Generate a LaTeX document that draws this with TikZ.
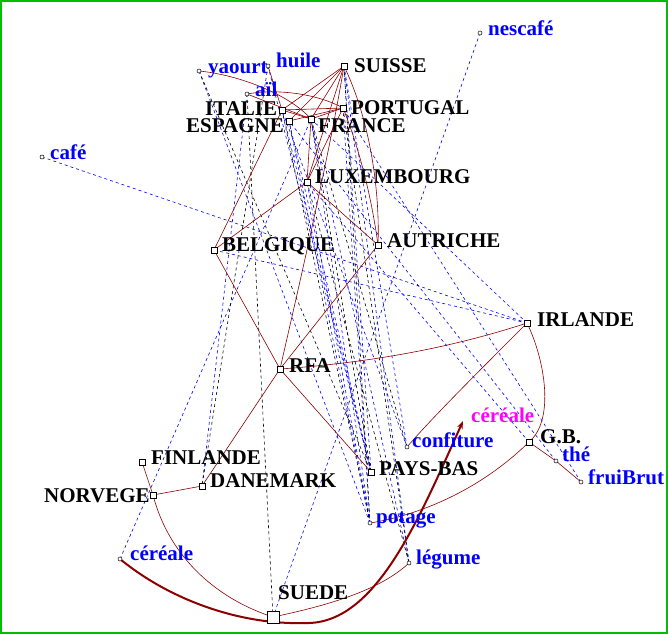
\documentclass[tikz,border=0pt]{standalone}
\usepackage{fontspec}
\setmainfont{Liberation Serif}
\usetikzlibrary{arrows.meta}
\definecolor{edgered}{RGB}{140,0,0}
\definecolor{lblblue}{RGB}{0,0,255}
\definecolor{lblmag}{RGB}{255,0,255}
\definecolor{framegreen}{RGB}{0,190,0}
\begin{document}
\begin{tikzpicture}[x=1pt,y=-1pt,
  cmark/.style={draw=black,fill=white,minimum size=6pt,inner sep=0pt,line width=0.6pt},
  bigmark/.style={draw=black,fill=white,minimum size=12pt,inner sep=0pt,line width=0.8pt},
  fmark/.style={draw=black,fill=white,circle,minimum size=4pt,inner sep=0pt,line width=0.5pt},
  clbl/.style={anchor=base west,inner sep=0pt,font=\fontsize{21}{24}\selectfont\bfseries,text=black},
  flbl/.style={anchor=base west,inner sep=0pt,font=\fontsize{21}{24}\selectfont\bfseries,text=lblblue},
  mlbl/.style={anchor=base west,inner sep=0pt,font=\fontsize{21}{24}\selectfont\bfseries,text=lblmag},
  redge/.style={draw=edgered,line width=0.6pt},
  bedge/.style={draw=lblblue,line width=0.6pt,dash pattern=on 3pt off 3pt},
  kedge/.style={draw=black,line width=0.6pt,dash pattern=on 3pt off 3pt},
  arrowedge/.style={draw=edgered,line width=2pt,-{Stealth[length=8pt,width=6pt]}}
]
\useasboundingbox (0,0) rectangle (668,634);
\draw[framegreen,line width=2pt] (1,1) rectangle (667,633);

% edge end points
\coordinate (nescafe) at (480,33);
\coordinate (yaourt) at (199,71);
\coordinate (huile) at (268,66);
\coordinate (SUISSE) at (344,66);
\coordinate (ail) at (247,94);
\coordinate (ITALIE) at (282,110);
\coordinate (PORTUGAL) at (343,108);
\coordinate (ESPAGNE) at (289,121);
\coordinate (FRANCE) at (311,119);
\coordinate (cafe) at (42,157);
\coordinate (LUX) at (307,182);
\coordinate (BELGIQUE) at (214,250);
\coordinate (AUTRICHE) at (378,245);
\coordinate (IRLANDE) at (527,323);
\coordinate (RFA) at (280,369);
\coordinate (cerM) at (463,421);
\coordinate (confiture) at (407,447);
\coordinate (GB) at (529,442);
\coordinate (the) at (556,461);
\coordinate (fruiBrut) at (581,482);
\coordinate (FINLANDE) at (142,462);
\coordinate (PAYSBAS) at (371,472);
\coordinate (DANEMARK) at (202,486);
\coordinate (NORVEGE) at (153,495);
\coordinate (potage) at (370,523);
\coordinate (cerB) at (120,559);
\coordinate (legume) at (409,563);
\coordinate (SUEDE) at (273,617);

% blue dashed
\draw[bedge] (nescafe) -- (SUEDE);
\draw[bedge] (cafe) -- (IRLANDE);
\draw[bedge] (cerB) -- (FRANCE);
\draw[bedge] (ail) -- (DANEMARK);
\draw[bedge] (potage) -- (ESPAGNE);
\draw[bedge] (potage) -- (FRANCE);
\draw[bedge] (potage) -- (LUX);
\draw[bedge] (potage) -- (PORTUGAL);
\draw[bedge] (PAYSBAS) -- (ITALIE);
\draw[bedge] (PAYSBAS) -- (ESPAGNE);
\draw[bedge] (PAYSBAS) -- (SUISSE);
\draw[bedge] (legume) -- (FRANCE);
\draw[bedge] (legume) -- (SUISSE);
\draw[bedge] (confiture) -- (ITALIE);
\draw[bedge] (confiture) -- (SUISSE);
\draw[bedge] (fruiBrut) -- (PORTUGAL);
\draw[bedge] (the) -- (ESPAGNE);
\draw[bedge] (GB) -- (LUX);
\draw[bedge] (IRLANDE) -- (FRANCE);
\draw[bedge] (IRLANDE) -- (BELGIQUE);
\draw[bedge] (yaourt) -- (potage);
\draw[bedge] (huile) -- (PAYSBAS);
% black dashed
\draw[kedge] (ail) -- (SUEDE);
\draw[kedge] (huile) -- (DANEMARK);
\draw[kedge] (ITALIE) -- (potage);
\draw[kedge] (SUISSE) -- (potage);
\draw[kedge] (FRANCE) -- (PAYSBAS);
\draw[kedge] (PORTUGAL) -- (legume);
\draw[kedge] (LUX) -- (legume);
\draw[kedge] (FRANCE) -- (confiture);
\draw[kedge] (yaourt) -- (PAYSBAS);

% red solid
\draw[redge] (yaourt) .. controls (240,75) and (290,95) .. (FRANCE);
\draw[redge] (huile) -- (ITALIE);
\draw[redge] (ail) .. controls (280,88) and (320,95) .. (PORTUGAL);
\draw[redge] (ail) -- (FRANCE);
\draw[redge] (ITALIE) -- (PORTUGAL);
\draw[redge] (ITALIE) -- (FRANCE);
\draw[redge] (ESPAGNE) -- (PORTUGAL);
\draw[redge] (FRANCE) -- (PORTUGAL);
\draw[redge] (SUISSE) -- (ITALIE);
\draw[redge] (SUISSE) -- (ESPAGNE);
\draw[redge] (SUISSE) -- (FRANCE);
\draw[redge] (SUISSE) -- (LUX);
\draw[redge] (SUISSE) .. controls (370,120) and (380,190) .. (AUTRICHE);
\draw[redge] (PORTUGAL) .. controls (360,150) and (372,200) .. (AUTRICHE);
\draw[redge] (SUISSE) .. controls (330,150) and (305,260) .. (RFA);
\draw[redge] (FRANCE) -- (LUX);
\draw[redge] (PORTUGAL) -- (LUX);
\draw[redge] (ITALIE) -- (BELGIQUE);
\draw[redge] (LUX) -- (BELGIQUE);
\draw[redge] (LUX) -- (AUTRICHE);
\draw[redge] (BELGIQUE) -- (RFA);
\draw[redge] (RFA) -- (AUTRICHE);
\draw[redge] (RFA) .. controls (380,362) and (460,345) .. (IRLANDE);
\draw[redge] (RFA) -- (PAYSBAS);
\draw[redge] (RFA) -- (DANEMARK);
\draw[redge] (IRLANDE) .. controls (545,360) and (555,420) .. (GB);
\draw[redge] (IRLANDE) .. controls (480,370) and (430,420) .. (confiture);
\draw[redge] (GB) .. controls (480,490) and (420,515) .. (potage);
\draw[redge] (GB) -- (the) -- (fruiBrut);
\draw[redge] (FINLANDE) -- (NORVEGE) .. controls (170,560) and (220,600) .. (SUEDE);
\draw[redge] (NORVEGE) -- (DANEMARK);
\draw[redge] (SUEDE) .. controls (330,605) and (380,590) .. (legume);
% thick arrow
\draw[arrowedge] (cerB) .. controls (170,600) and (240,625) .. (305,623) .. controls (375,625) and (418,521) .. (cerM);

% markers
\foreach \n in {SUISSE,ITALIE,PORTUGAL,ESPAGNE,FRANCE,LUX,BELGIQUE,AUTRICHE,IRLANDE,RFA,GB,FINLANDE,PAYSBAS,DANEMARK,NORVEGE}
  \node[cmark] (m\n) at (\n) {};
\node[bigmark] (mSUEDE) at (SUEDE) {};
\foreach \n in {nescafe,yaourt,huile,ail,cafe,confiture,the,fruiBrut,potage,cerB,legume}
  \node[fmark] (m\n) at (\n) {};

% labels
\node[flbl] (lnescafe) at (488,36) {nescafé};
\node[flbl] (lyaourt) at (208,74) {yaourt};
\node[flbl] (lhuile) at (276,67) {huile};
\node[clbl] (lSUISSE) at (354,72) {SUISSE};
\node[flbl] (lail) at (255,96) {aïl};
\node[clbl] (lITALIE) at (205,115) {ITALIE};
\node[clbl] (lPORTUGAL) at (351,114) {PORTUGAL};
\node[clbl] (lESPAGNE) at (186,132) {ESPAGNE};
\node[clbl] (lFRANCE) at (318,132) {FRANCE};
\node[flbl] (lcafe) at (50,159) {café};
\node[clbl] (lLUX) at (315,183) {LUXEMBOURG};
\node[clbl] (lBELGIQUE) at (222,251) {BELGIQUE};
\node[clbl] (lAUTRICHE) at (387,247) {AUTRICHE};
\node[clbl] (lIRLANDE) at (537,326) {IRLANDE};
\node[clbl] (lRFA) at (289,372) {RFA};
\node[mlbl] (lcerM) at (471,422) {céréale};
\node[flbl] (lconfiture) at (412,447) {confiture};
\node[clbl] (lGB) at (540,443) {G.B.};
\node[flbl] (lthe) at (562,461) {thé};
\node[flbl] (lfruiBrut) at (588,484) {fruiBrut};
\node[clbl] (lFINLANDE) at (151,464) {FINLANDE};
\node[clbl] (lPAYSBAS) at (379,475) {PAYS-BAS};
\node[clbl] (lDANEMARK) at (210,487) {DANEMARK};
\node[clbl] (lNORVEGE) at (44,502) {NORVEGE};
\node[flbl] (lpotage) at (376,523) {potage};
\node[flbl] (lcerB) at (130,560) {céréale};
\node[flbl] (llegume) at (416,564) {légume};
\node[clbl] (lSUEDE) at (278,599) {SUEDE};
\end{tikzpicture}
\end{document}
